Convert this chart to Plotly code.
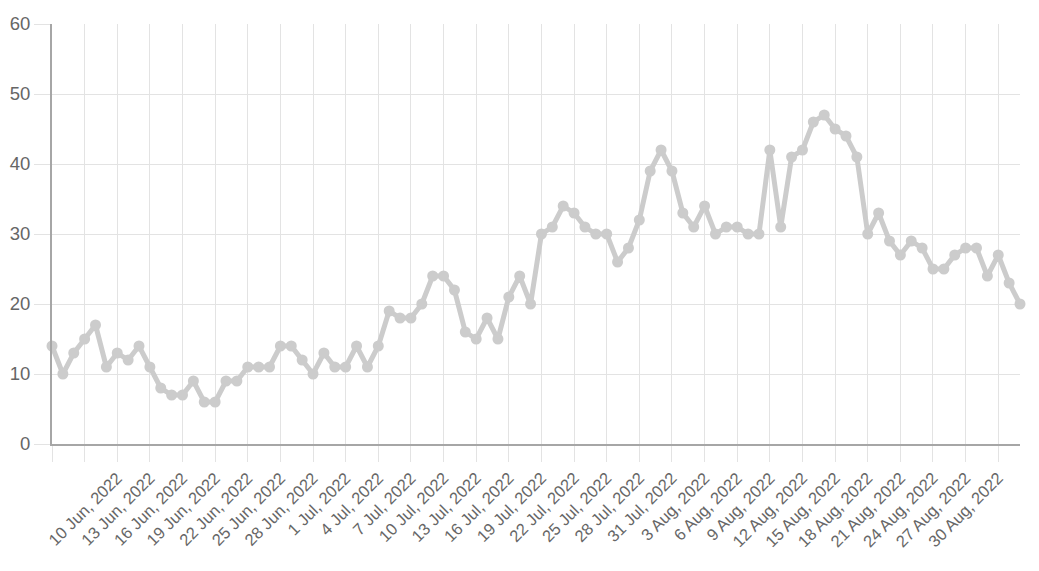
import plotly.graph_objects as go
import pandas as pd

start_date = "2022-06-04"
values = [14, 10, 13, 15, 17, 11, 13, 12, 14, 11,
          8, 7, 7, 9, 6, 6, 9, 9, 11, 11,
          11, 14, 14, 12, 10, 13, 11, 11, 14, 11,
          14, 19, 18, 18, 20, 24, 24, 22, 16, 15,
          18, 15, 21, 24, 20, 30, 31, 34, 33, 31,
          30, 30, 26, 28, 32, 39, 42, 39, 33, 31,
          34, 30, 31, 31, 30, 30, 42, 31, 41, 42,
          46, 47, 45, 44, 41, 30, 33, 29, 27, 29,
          28, 25, 25, 27, 28, 28, 24, 27, 23, 20]
dates = pd.date_range(start_date, periods=len(values), freq="D")

grid_dates = ["2022-06-04", "2022-06-07", "2022-06-10", "2022-06-13", "2022-06-16",
              "2022-06-19", "2022-06-22", "2022-06-25", "2022-06-28", "2022-07-01",
              "2022-07-04", "2022-07-07", "2022-07-10", "2022-07-13", "2022-07-16",
              "2022-07-19", "2022-07-22", "2022-07-25", "2022-07-28", "2022-07-31",
              "2022-08-03", "2022-08-06", "2022-08-09", "2022-08-12", "2022-08-15",
              "2022-08-18", "2022-08-21", "2022-08-24", "2022-08-27", "2022-08-30"]
tick_labels = ["", "", "10 Jun, 2022", "13 Jun, 2022", "16 Jun, 2022",
               "19 Jun, 2022", "22 Jun, 2022", "25 Jun, 2022", "28 Jun, 2022", "1 Jul, 2022",
               "4 Jul, 2022", "7 Jul, 2022", "10 Jul, 2022", "13 Jul, 2022", "16 Jul, 2022",
               "19 Jul, 2022", "22 Jul, 2022", "25 Jul, 2022", "28 Jul, 2022", "31 Jul, 2022",
               "3 Aug, 2022", "6 Aug, 2022", "9 Aug, 2022", "12 Aug, 2022", "15 Aug, 2022",
               "18 Aug, 2022", "21 Aug, 2022", "24 Aug, 2022", "27 Aug, 2022", "30 Aug, 2022"]
y_ticks = [0, 10, 20, 30, 40, 50, 60]

line_color = "#cccccc"
grid_color = "#e3e3e3"
axis_color = "#a6a6a6"
text_color = "#666666"

fig = go.Figure()
fig.add_trace(go.Scatter(
    x=dates, y=values, mode="lines+markers",
    line=dict(color=line_color, width=5),
    marker=dict(color=line_color, size=11),
    cliponaxis=False, showlegend=False,
))

fig.update_layout(
    width=1031, height=563,
    margin=dict(l=44, r=19, t=16, b=127),
    plot_bgcolor="white", paper_bgcolor="white",
    font=dict(family="Liberation Sans, Arial, sans-serif", size=17, color=text_color),
)
fig.update_xaxes(
    range=[dates[0], dates[-1]], automargin=False,
    tickmode="array", tickvals=grid_dates, ticktext=tick_labels,
    tickangle=-45, ticks="outside", ticklen=16, tickcolor=grid_color, tickwidth=1,
    showgrid=True, gridcolor=grid_color, gridwidth=1,
    showline=True, linecolor=axis_color, linewidth=2,
    zeroline=False, tickfont=dict(size=16.5, color=text_color),
)
fig.update_yaxes(
    range=[0, 60], tickmode="array", tickvals=y_ticks, automargin=False,
    ticks="outside", ticklen=16, tickcolor=grid_color, tickwidth=1,
    showgrid=True, gridcolor=grid_color, gridwidth=1,
    showline=True, linecolor=axis_color, linewidth=2,
    zeroline=False, tickfont=dict(size=18.5, color=text_color),
)

fig.write_html("out.html")
